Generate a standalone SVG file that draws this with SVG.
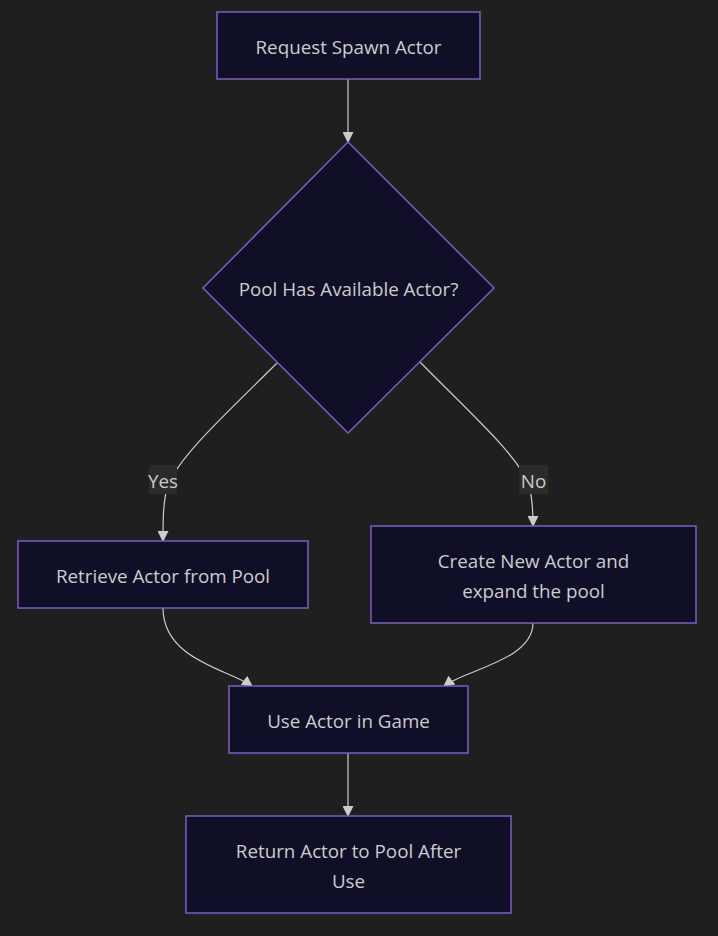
<svg xmlns="http://www.w3.org/2000/svg" width="718" height="936" viewBox="0 0 718 936">
<style>
.node{fill:#100f28;stroke:#7e5cc8;stroke-width:1.5}
.lbl{font-family:"Open Sans","Noto Sans",sans-serif;font-size:18.8px;fill:#cccccc;text-anchor:middle;dominant-baseline:central}
.edge{fill:none;stroke:#cccccc;stroke-width:1.2}
.elbg{fill:#2b2b2b}
</style>
<defs>
<marker id="arr" viewBox="0 0 10 10" refX="9" refY="5" markerWidth="11" markerHeight="11" markerUnits="userSpaceOnUse" orient="auto">
<path d="M0,0 L10,5 L0,10 Z" fill="#cccccc"/>
</marker>
</defs>
<rect width="718" height="936" fill="#1f1f1f"/>
<g id="connectors">
<path class="edge" d="M348,79 L348,142" marker-end="url(#arr)"/>
<path class="edge" d="M277,363 C230,410 180,455 168,485 C163,500 163,520 163,541" marker-end="url(#arr)"/>
<path class="edge" d="M420,362 C467,410 518,455 529,485 C533,500 533,515 533,526" marker-end="url(#arr)"/>
<path class="edge" d="M163,608 C163,660 230,670 252,686" marker-end="url(#arr)"/>
<path class="edge" d="M533,623 C533,660 465,670 444,686" marker-end="url(#arr)"/>
<path class="edge" d="M348,753 L348,816" marker-end="url(#arr)"/>
<rect class="elbg" x="149" y="465" width="28" height="29"/>
<text class="lbl" x="163" y="481">Yes</text>
<rect class="elbg" x="519" y="465" width="29" height="29"/>
<text class="lbl" x="533.5" y="481">No</text>
</g>
<g id="request">
<rect class="node" x="217" y="12" width="263" height="67"/>
<text class="lbl" x="348.5" y="47">Request Spawn Actor</text>
</g>
<g id="decision">
<polygon class="node" points="348,142 494,288 348,433 203,288"/>
<text class="lbl" x="348.5" y="289">Pool Has Available Actor?</text>
</g>
<g id="retrieve">
<rect class="node" x="18" y="541" width="290" height="67"/>
<text class="lbl" x="163" y="576">Retrieve Actor from Pool</text>
</g>
<g id="create">
<rect class="node" x="371" y="526" width="325" height="97"/>
<text class="lbl" x="533.5" y="561">Create New Actor and</text>
<text class="lbl" x="533.5" y="591">expand the pool</text>
</g>
<g id="use">
<rect class="node" x="229" y="686" width="239" height="67"/>
<text class="lbl" x="348.5" y="721">Use Actor in Game</text>
</g>
<g id="return">
<rect class="node" x="186" y="816" width="325" height="97"/>
<text class="lbl" x="348.5" y="851">Return Actor to Pool After</text>
<text class="lbl" x="348.5" y="881">Use</text>
</g>
</svg>
